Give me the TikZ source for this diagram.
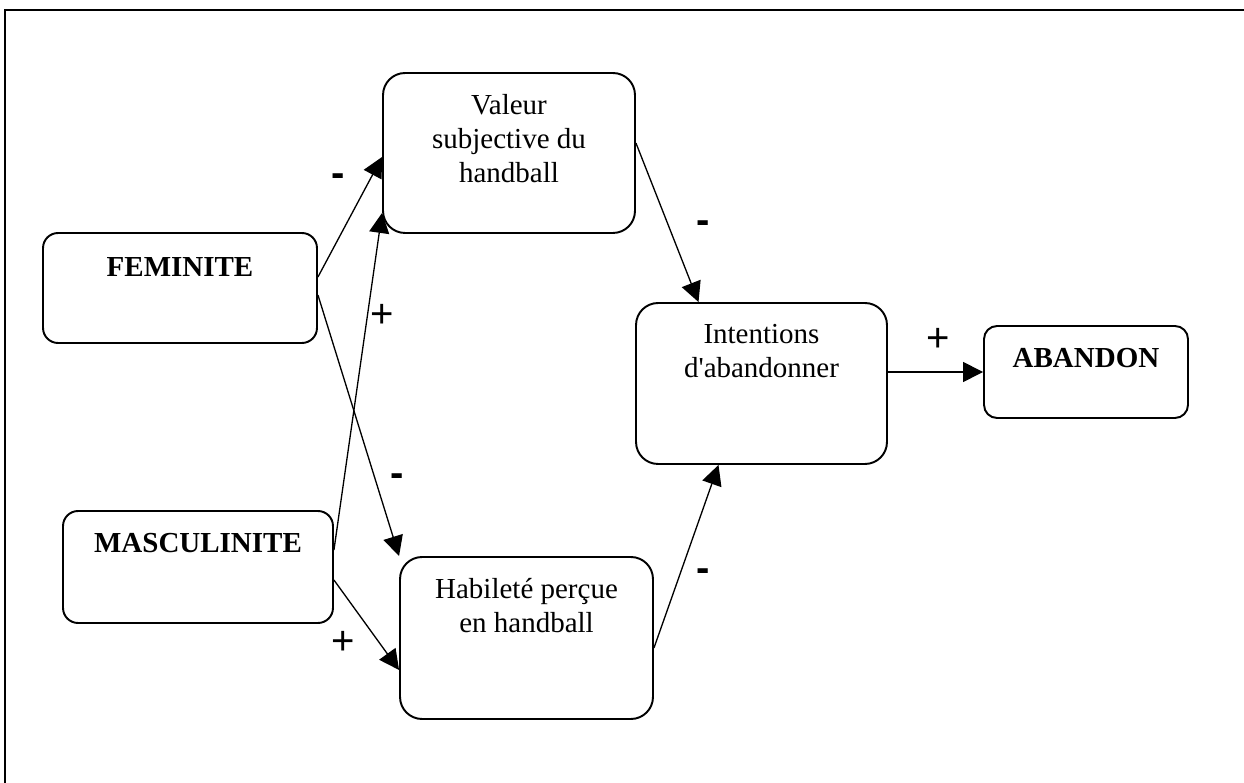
\documentclass[tikz,border=0pt]{standalone}
\usepackage{fontspec}
\setmainfont{Liberation Serif}
\newfontfamily\signfont{Liberation Sans}
\usetikzlibrary{arrows.meta, positioning}

\begin{document}
\begin{tikzpicture}[x=0.02cm, y=-0.02cm,
		box/.style={draw, line width=1.1pt, rounded corners=0.44cm, inner sep=0pt},
		smallbox/.style={box, rounded corners=0.3cm},
		boxtxt/.style={inner sep=0pt, align=center, font=\fontsize{16.5}{19.4}\selectfont},
		arr/.style={-{Triangle[length=0.4cm, width=0.4cm]}, line width=0.75pt},
		sgn/.style={inner sep=0pt, font=\signfont\fontsize{22.8}{27}\selectfont},
		minus/.style={sgn, font=\signfont\bfseries\fontsize{22.8}{27}\selectfont}]
	% Frame:
	\useasboundingbox (0,0) rectangle (1244,783);
	\draw[line width=1.2pt] (5,783) -- (5,10) -- (1244,10);
	% Boxes:
	\node[smallbox, minimum width=5.48cm, minimum height=2.2cm] (fem) at (180,288){};
	\node[smallbox, minimum width=5.4cm, minimum height=2.24cm] (masc) at (198,567){};
	\node[box, minimum width=5.04cm, minimum height=3.2cm] (valeur) at (509,153){};
	\node[box, minimum width=5.06cm, minimum height=3.24cm] (habil) at (526.5,638){};
	\node[box, minimum width=5.02cm, minimum height=3.22cm] (intent) at (761.5,383.5){};
	\node[smallbox, rounded corners=0.26cm, minimum width=4.08cm, minimum height=1.84cm] (aband) at (1086,372){};
	% Texts:
	\node[boxtxt, below=0.5cm of fem.north] (femTxt){\textbf{FEMINITE}};
	\node[boxtxt, below=0.46cm of masc.north] (mascTxt){\textbf{MASCULINITE}};
	\node[boxtxt, below=0.44cm of valeur.north] (valeurTxt){Valeur\\subjective du\\handball};
	\node[boxtxt, below=0.44cm of habil.north] (habilTxt){Habileté perçue\\en handball};
	\node[boxtxt, below=0.44cm of intent.north] (intentTxt){Intentions\\d\textquotesingle abandonner};
	\node[boxtxt, below=0.46cm of aband.north] (abandTxt){\textbf{ABANDON}};
	% Arrows:
	\draw[arr] ([yshift=0.22cm]fem.east) -- ([yshift=-0.08cm]valeur.west);
	\draw[arr] ([yshift=0.34cm]masc.east) -- ([yshift=0.42cm]valeur.south west);
	\draw[arr] ([yshift=-0.14cm]fem.east) -- (habil.north west);
	\draw[arr] ([yshift=-0.26cm]masc.east) -- ([yshift=-0.64cm]habil.west);
	\draw[arr] ([yshift=0.2cm]valeur.east) -- ([xshift=-1.26cm]intent.north);
	\draw[arr] ([yshift=-0.2cm]habil.east) -- ([xshift=-0.86cm]intent.south);
	\draw[arr] (intent.east |- aband.west) -- (aband.west);
	% Signs:
	\node[minus] (s1) at (338,180){-};
	\node[sgn] (s2) at (382,316){+};
	\node[minus] (s3) at (397,480){-};
	\node[sgn] (s4) at (343,643){+};
	\node[minus] (s5) at (703,227){-};
	\node[minus] (s6) at (703,575){-};
	\node[sgn] (s7) at (938,340){+};
\end{tikzpicture}
\end{document}
